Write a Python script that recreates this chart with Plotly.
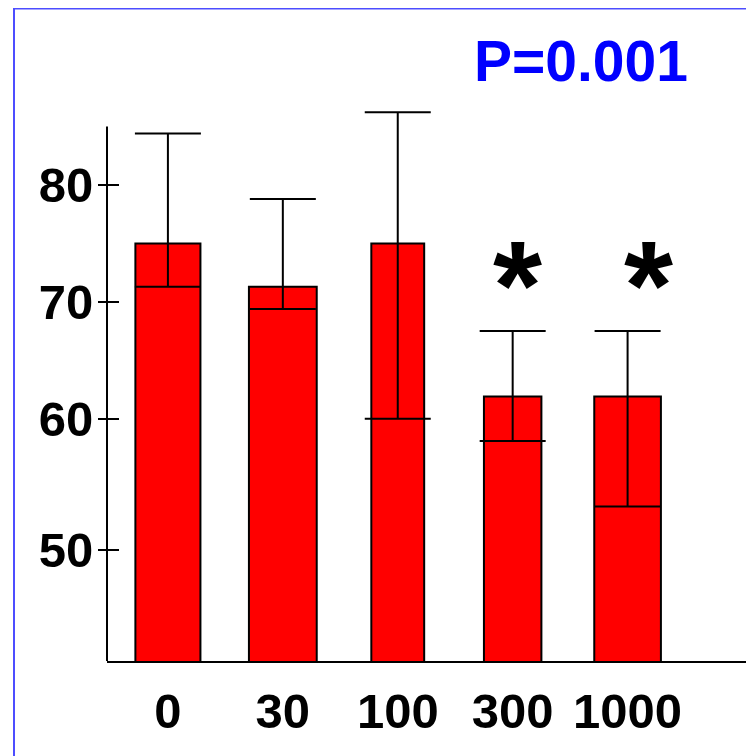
import plotly.graph_objects as go

# ---- data ----
doses = ["0", "30", "100", "300", "1000"]
means = [75.0, 71.3, 75.0, 61.9, 61.9]
upper = [84.4, 78.8, 86.2, 67.5, 67.5]
lower = [71.3, 69.4, 60.0, 58.1, 52.5]
bar_widths = [0.566, 0.59, 0.46, 0.50, 0.58]
ytick_vals = [48.8, 60, 70, 80]
ytick_text = ["50", "60", "70", "80"]
star_groups = ["300", "1000"]
star_y = [72.5, 72.5]
star_xshift = [5, 21]
p_text = "P=0.001"

err_plus = [u - m for u, m in zip(upper, means)]
err_minus = [m - l for m, l in zip(means, lower)]

# page body has an 8px margin, so the figure is 8px smaller than the window
W, H = 746, 748
MT, MB = 95, 95
plot_left_px = 99
plot_h = H - MT - MB
FONT = "Liberation Sans, Arial, sans-serif"

fig = go.Figure()
fig.add_trace(go.Bar(
    x=doses, y=means, width=bar_widths,
    marker=dict(color="#ff0000", line=dict(color="black", width=2)),
    error_y=dict(type="data", symmetric=False, array=err_plus, arrayminus=err_minus,
                 color="black", thickness=2, width=33),
    cliponaxis=False, showlegend=False,
))

for g, yv, xs in zip(star_groups, star_y, star_xshift):
    fig.add_annotation(x=doses.index(g), y=yv, text="*", showarrow=False, xshift=xs,
                       yshift=-13,
                       font=dict(family=FONT, size=126, color="black", weight="bold"),
                       xanchor="center", yanchor="middle")

fig.add_annotation(xref="paper", yref="paper", x=573 / W, y=(H - MB - 53) / plot_h,
                   text=p_text, showarrow=False, xanchor="center", yanchor="middle",
                   font=dict(family=FONT, size=57, color="#0000ff", weight="bold"))

# y axis line (stops below top of plot area)
fig.add_shape(type="line", xref="paper", yref="y", x0=plot_left_px / W, x1=plot_left_px / W,
              y0=39.3, y1=85, line=dict(color="black", width=2))
# blue frame
fig.add_shape(type="rect", xref="paper", yref="paper", x0=6 / W, x1=1.05,
              y0=-0.3, y1=(H - MB - 0.5) / plot_h, line=dict(color="#4d4dff", width=2),
              fillcolor="rgba(0,0,0,0)", layer="above")

fig.update_layout(
    width=W, height=H, margin=dict(l=0, r=0, t=MT, b=MB),
    paper_bgcolor="white", plot_bgcolor="white",
    xaxis=dict(type="category", domain=[plot_left_px / W, 1.0], range=[-0.53, 5.10],
               showline=True, linecolor="black", linewidth=2, ticks="", showgrid=False,
               zeroline=False, ticklabelstandoff=6,
               tickfont=dict(family=FONT, size=49, color="black", weight="bold"),
               automargin=False),
    yaxis=dict(range=[39.3, 87], anchor="free", position=111 / W, showline=False,
               ticks="outside", ticklen=21, tickwidth=2, tickcolor="black",
               tickvals=ytick_vals, ticktext=ytick_text, showgrid=False, zeroline=False,
               ticklabelstandoff=-5,
               tickfont=dict(family=FONT, size=49, color="black", weight="bold"),
               automargin=False),
)

fig.write_html("out.html")
